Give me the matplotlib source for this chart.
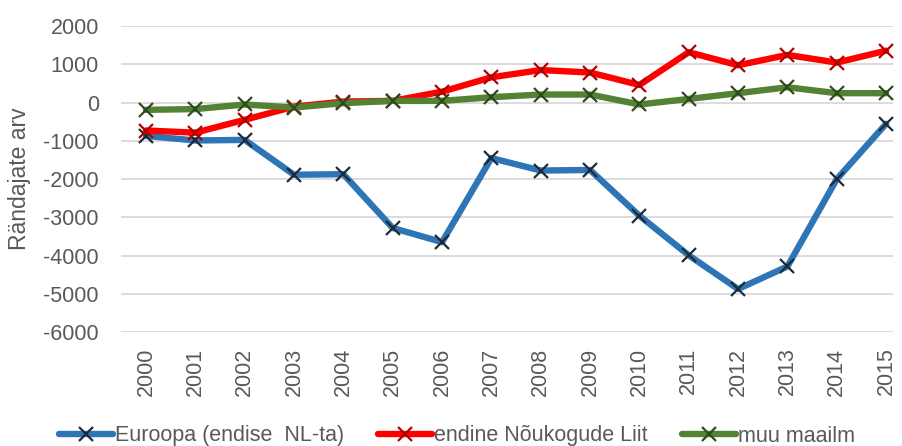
import matplotlib
matplotlib.use("Agg")
import matplotlib.pyplot as plt

years = [str(y) for y in range(2000, 2016)]
europe = [-870, -990, -975, -1885, -1870, -3275, -3645, -1450, -1775, -1760, -2955, -3990, -4870, -4280, -2000, -555]
former_ussr = [-730, -785, -450, -105, 25, 45, 285, 660, 850, 785, 460, 1315, 975, 1245, 1045, 1355]
rest_world = [-190, -170, -50, -130, -15, 45, 45, 140, 210, 210, -50, 95, 245, 400, 245, 245]
labels = ["Euroopa (endise  NL-ta)", "endine Nõukogude Liit", "muu maailm"]
yticks = list(range(-6000, 2001, 1000))

plt.rcParams['font.family'] = ['Liberation Sans', 'DejaVu Sans']

fig = plt.figure(figsize=(9.03, 4.46), dpi=100)
ax = fig.add_axes([121/903, 1-332.3/446, (893-121)/903, (332.3-26)/446])

x = list(range(len(years)))
series = [
    (europe, '#2E75B6', '#1F2A36'),
    (former_ussr, '#FF0000', '#B00000'),
    (rest_world, '#548235', '#2F4A1E'),
]
for (vals, col, mcol), lab in zip(series, labels):
    ax.plot(x, vals, color=col, lw=4.6, marker='x', markersize=10,
            markeredgecolor=mcol, markeredgewidth=1.6, label=lab,
            solid_capstyle='round', solid_joinstyle='round')

ax.set_ylim(-6000, 2000)
ax.set_xlim(-0.507, 15.14)
ax.set_yticks(yticks)
ax.set_yticklabels([str(v) for v in yticks])
ax.set_xticks(x)
ax.set_xticklabels(years, rotation=90)
ax.grid(axis='y', color='#D9D9D9', lw=1.3)
ax.set_axisbelow(True)
for s in ax.spines.values():
    s.set_visible(False)
ax.tick_params(axis='y', length=0, pad=16, labelsize=15.5, labelcolor='#595959')
ax.tick_params(axis='x', length=0, pad=11, labelsize=15.5, labelcolor='#595959')

fig.text(20/903, 1-179/446, "Rändajate arv", rotation=90, ha='center', va='center',
         fontsize=16.5, color='#595959')

leg = fig.legend(loc='center', bbox_to_anchor=(457/903, 1-436/446), ncol=3,
                 frameon=False, fontsize=15.5, handlelength=2.5, handletextpad=0.1,
                 columnspacing=1.6, borderaxespad=0, labelcolor='#595959')

fig.savefig("out.png", dpi=100)
